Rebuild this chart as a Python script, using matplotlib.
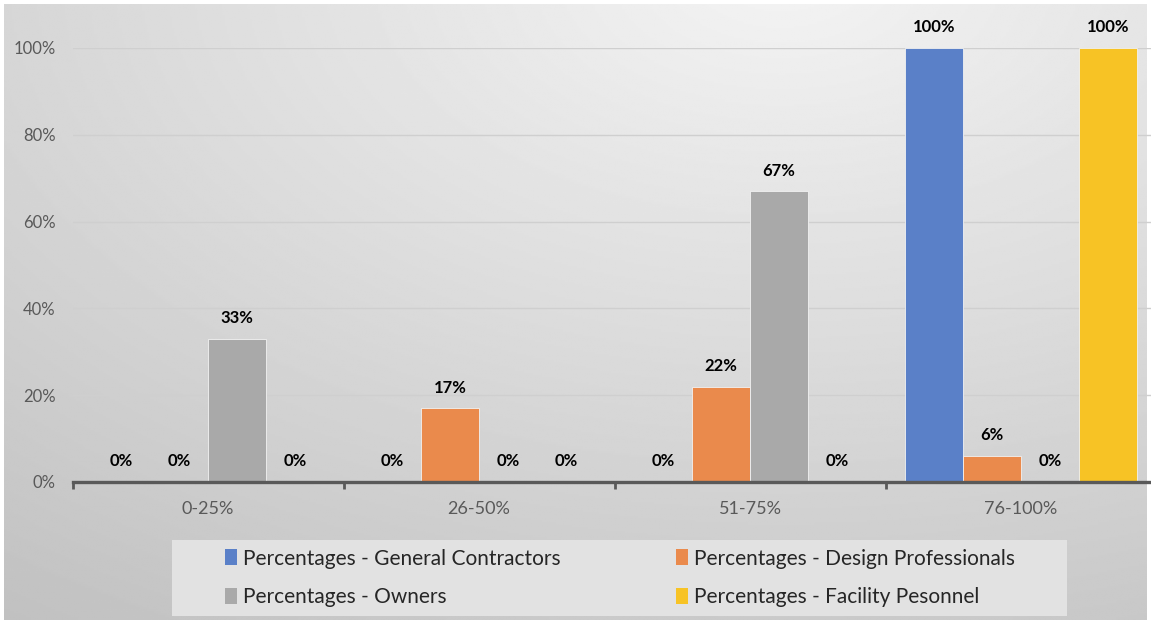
import numpy as np
import matplotlib
matplotlib.use("Agg")
from matplotlib import pyplot as plt
from matplotlib.patches import Patch, Rectangle

# Data
categories = ["0-25%", "26-50%", "51-75%", "76-100%"]
series_names = ["Percentages - General Contractors", "Percentages - Design Professionals",
                "Percentages - Owners", "Percentages - Facility Pesonnel"]
general_contractors = [0, 0, 0, 100]
design_professionals = [0, 17, 22, 6]
owners = [33, 0, 67, 0]
facility_personnel = [0, 0, 0, 100]
colors = ["#5a80c8", "#ea8a4c", "#a9a9a9", "#f7c325"]

plt.rcParams["font.family"] = ["Lato", "DejaVu Sans"]

fig = plt.figure(figsize=(11.51, 6.26), dpi=100)

# Radial grey gradient behind the chart
bg = fig.add_axes([4/1151, 6/626, 1143/1151, 616/626], zorder=-10)
yy, xx = np.mgrid[0:1:300j, 0:1:500j]
r = np.sqrt(((xx - 0.68) / 1.0) ** 2 + ((yy + 0.05) / 1.1) ** 2)
bg.imshow(0.955 - 0.17 * r, cmap="gray", vmin=0, vmax=1, aspect="auto",
          extent=(0, 1, 0, 1), origin="upper")
bg.axis("off")

ax = fig.add_axes([72.5/1151, 144/626, 1084/1151, 434/626])
ax.set_facecolor("none")

series = [general_contractors, design_professionals, owners, facility_personnel]
x = np.arange(len(categories))
w = 0.214
handles = []
for i, (name, vals, c) in enumerate(zip(series_names, series, colors)):
    pos = x + (i - 1.5) * w
    bars = ax.bar(pos, vals, width=w, color=c, edgecolor="#f2f2f2", linewidth=0.6,
                  zorder=3, label=name)
    handles.append(Patch(facecolor=c, edgecolor="none", label=name))
    for b, v in zip(bars, vals):
        ax.annotate(f"{v}%", (b.get_x() + b.get_width() / 2, v), xytext=(0, 9),
                    textcoords="offset points", ha="center", va="bottom",
                    fontsize=12, fontweight="bold", color="black")

ax.set_xlim(-0.5, 3.5)
ax.set_ylim(0, 100)
ax.set_yticks(np.arange(0, 101, 20))
ax.set_yticklabels([f"{t}%" for t in range(0, 101, 20)], fontsize=12, color="#595959")
ax.yaxis.grid(True, color="#cfcfcf", linewidth=1.0, zorder=0)
ax.tick_params(axis="y", length=0, pad=12)

ax.set_xticks(x)
ax.set_xticklabels(categories, fontsize=13, color="#595959")
ax.set_xticks(np.arange(-0.5, 3.6, 1), minor=True)
ax.tick_params(axis="x", which="major", length=0, pad=14)
ax.tick_params(axis="x", which="minor", length=5, width=2, color="#595959")

for s in ["top", "right", "left"]:
    ax.spines[s].set_visible(False)
ax.spines["bottom"].set_color("#595959")
ax.spines["bottom"].set_linewidth(2.4)
ax.spines["bottom"].set_zorder(4)

# legend box drawn separately (wider than the legend's own frame)
fig.patches.append(Rectangle((172/1151, 1 - 616/626), 895/1151, 76/626,
                             transform=fig.transFigure, facecolor="#e2e2e2",
                             edgecolor="none", zorder=0))

# legend fills column-first, so order handles to get GC | DP on row 1
order = [0, 2, 1, 3]
leg = fig.legend([handles[k] for k in order], [series_names[k] for k in order],
                 ncol=2, loc="center", bbox_to_anchor=(620/1151, 1 - 578/626),
                 fontsize=15, frameon=False, handlelength=0.6,
                 handleheight=0.8, handletextpad=0.3, columnspacing=5.5,
                 labelspacing=0.9, borderpad=0.55, borderaxespad=0,
                 labelcolor="#262626")

fig.savefig("out.png", dpi=100)
